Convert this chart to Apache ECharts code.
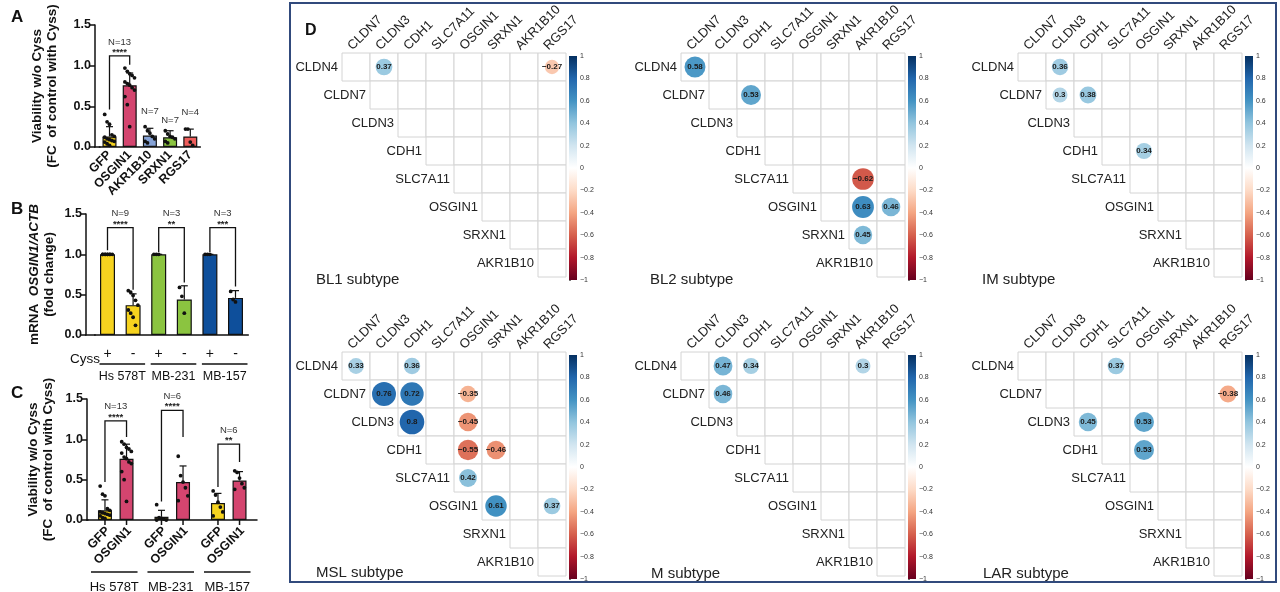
<!DOCTYPE html>
<html>
<head>
<meta charset="utf-8">
<script src="https://cdn.jsdelivr.net/npm/echarts@6/dist/echarts.min.js"></script>
<style>
  html, body { margin: 0; padding: 0; background: #fff; }
  #chart { width: 1280px; height: 592px; }
</style>
</head>
<body>
<div id="chart"></div>
<script>
// ---------- panel A : viability per gene ----------
const aCats = ['GFP', 'OSGIN1', 'AKR1B10', 'SRXN1', 'RGS17'];
const aMeans = [0.13, 0.76, 0.14, 0.12, 0.13];
const aSD = [0.12, 0.15, 0.09, 0.08, 0.09];
const aColors = ['#f6d31f', '#d4456f', '#85a2d6', '#8bc440', '#ee5d5b'];
const aDots = [
  [0.40, 0.31, 0.28, 0.15, 0.13, 0.12, 0.10, 0.09, 0.08, 0.07, 0.06, 0.04, 0.02],
  [0.97, 0.93, 0.90, 0.88, 0.85, 0.80, 0.78, 0.76, 0.73, 0.70, 0.62, 0.52, 0.25],
  [0.25, 0.20, 0.17, 0.13, 0.10, 0.07, 0.05],
  [0.20, 0.16, 0.13, 0.12, 0.10, 0.07, 0.05],
  [0.22, 0.22, 0.06, 0.02]
];
const aNLabels = [['N=7', 2, 0.44], ['N=7', 3, 0.33], ['N=4', 4, 0.43]];
const aBrackets = [[0, 1, 1.12, 0.46, 1.01, 'N=13', '****']];

// ---------- panel B : OSGIN1 mRNA ----------
const bCats = ['+', '-', '+', '-', '+', '-'];
const bLines = ['Hs 578T', 'MB-231', 'MB-157'];
const bMeans = [1.0, 0.37, 1.0, 0.44, 1.0, 0.46];
const bSD = [0, 0.14, 0, 0.17, 0, 0.09];
const bColors = ['#f6d31f', '#f6d31f', '#8bc440', '#8bc440', '#0e4f9b', '#0e4f9b'];
const bDots = [
  [1, 1, 1, 1, 1, 1, 1, 1, 1],
  [0.55, 0.53, 0.49, 0.43, 0.37, 0.31, 0.27, 0.22, 0.12],
  [1, 1, 1],
  [0.59, 0.48, 0.27],
  [1, 1, 1],
  [0.54, 0.44, 0.41]
];
const bBrackets = [
  [0, 1, 1.33, 1.05, 0.56, 'N=9', '****'],
  [2, 3, 1.33, 1.03, 0.65, 'N=3', '**'],
  [4, 5, 1.33, 1.03, 0.60, 'N=3', '***']
];

// ---------- panel C : viability per cell line ----------
const cLines = ['Hs 578T', 'MB-231', 'MB-157'];
const cPair = ['GFP', 'OSGIN1'];
const cGfp = [0.12, 0.04, 0.21];
const cGfpSD = [0.13, 0.08, 0.12];
const cOsg = [0.76, 0.47, 0.49];
const cOsgSD = [0.18, 0.20, 0.11];
const cGfpDots = [
  [0.42, 0.32, 0.30, 0.14, 0.12, 0.10, 0.09, 0.08, 0.07, 0.06, 0.05, 0.03, 0.02],
  [0.19, 0.03, 0.02, 0.01, 0.00, 0.00],
  [0.36, 0.31, 0.22, 0.16, 0.10, 0.05]
];
const cOsgDots = [
  [0.97, 0.94, 0.90, 0.88, 0.85, 0.83, 0.78, 0.76, 0.72, 0.70, 0.60, 0.50, 0.23],
  [0.79, 0.55, 0.47, 0.40, 0.30, 0.24],
  [0.61, 0.59, 0.52, 0.45, 0.40, 0.38]
];
const cBrackets = [
  [0, 1.23, 0.47, 1.03, 'N=13', '****'],
  [1, 1.36, 0.23, 1.03, 'N=6', '****'],
  [2, 0.94, 0.41, 0.72, 'N=6', '**']
];

// ---------- panel D : correlation plots ----------
const rowGenes = ['CLDN4', 'CLDN7', 'CLDN3', 'CDH1', 'SLC7A11', 'OSGIN1', 'SRXN1', 'AKR1B10'];
const colGenes = ['CLDN7', 'CLDN3', 'CDH1', 'SLC7A11', 'OSGIN1', 'SRXN1', 'AKR1B10', 'RGS17'];
const subtypes = ['BL1 subtype', 'BL2 subtype', 'IM subtype', 'MSL subtype', 'M subtype', 'LAR subtype'];
// [row, col, r]
const corrBL1 = [[0, 1, 0.37], [0, 7, -0.27]];
const corrBL2 = [[0, 0, 0.58], [1, 2, 0.53], [4, 6, -0.62], [5, 6, 0.63], [5, 7, 0.46], [6, 6, 0.45]];
const corrIM = [[0, 1, 0.36], [1, 1, 0.3], [1, 2, 0.38], [3, 4, 0.34]];
const corrMSL = [[0, 0, 0.33], [0, 2, 0.36], [1, 1, 0.76], [1, 2, 0.72], [1, 4, -0.35], [2, 2, 0.8],
  [2, 4, -0.45], [3, 4, -0.55], [3, 5, -0.46], [4, 4, 0.42], [5, 5, 0.61], [5, 7, 0.37]];
const corrM = [[0, 1, 0.47], [0, 2, 0.34], [0, 6, 0.3], [1, 1, 0.46]];
const corrLAR = [[0, 3, 0.37], [1, 7, -0.38], [2, 2, 0.45], [2, 4, 0.53], [3, 4, 0.53]];
const corrPanels = [corrBL1, corrBL2, corrIM, corrMSL, corrM, corrLAR];
const rdbu = ['#67001F', '#B2182B', '#D6604D', '#F4A582', '#FDDBC7', '#FFFFFF',
  '#D1E5F0', '#92C5DE', '#4393C3', '#2166AC', '#053061'];

// ---------- layout ----------
const FONT = 'Liberation Sans';
const INK = '#111';
const corrLeft = [342, 681, 1018];
const corrTop = [53, 352];
const CELL = 28;
const subLeft = [311, 645, 977, 311, 646, 978];
const subTop = [267, 267, 267, 560, 561, 561];

const grid = [], xAxis = [], yAxis = [], series = [], title = [];
const scatterIdx = [];

function barPanel(cfg) {
  grid.push({ left: cfg.left, top: cfg.top, width: cfg.width, height: cfg.height });
  const gi = grid.length - 1;
  xAxis.push({
    type: 'category', gridIndex: gi, data: cfg.cats,
    axisLine: { lineStyle: { color: INK, width: 1.5 } },
    axisTick: { alignWithLabel: true, length: 5, lineStyle: { color: INK, width: 1.5 } },
    axisLabel: cfg.axisLabel
  });
  yAxis.push({
    type: 'value', gridIndex: gi, min: 0, max: 1.5, interval: 0.5, offset: cfg.yOffset,
    name: cfg.name, nameLocation: 'middle', nameGap: cfg.nameGap, nameTextStyle: cfg.nameStyle,
    axisLine: { show: true, lineStyle: { color: INK, width: 1.5 } },
    axisTick: { show: true, length: 5, lineStyle: { color: INK, width: 1.5 } },
    axisLabel: { formatter: v => v.toFixed(1), fontWeight: 'bold', fontSize: 12.5, color: INK, margin: 4, fontFamily: FONT },
    splitLine: { show: false }
  });
  const ax = { xi: xAxis.length - 1, yi: yAxis.length - 1 };
  // join the x axis line to the offset y axis
  series.push({
    type: 'custom', xAxisIndex: ax.xi, yAxisIndex: ax.yi, silent: true, clip: false,
    data: [[0, 0]],
    renderItem: (params, api) => {
      const p = api.coord([0, 0]);
      const x0 = p[0] - api.size([1, 0])[0] / 2;
      return { type: 'line', shape: { x1: x0 - cfg.yOffset - 0.75, y1: p[1], x2: x0 + 1, y2: p[1] },
        style: { stroke: INK, lineWidth: 1.5 } };
    }
  });
  return ax;
}

// draws error bars, dots, brackets, N labels on a bar panel
function overlay(ax, bars, pairOff, brackets, singles) {
  const base = { type: 'custom', xAxisIndex: ax.xi, yAxisIndex: ax.yi, silent: true, clip: false };
  series.push(Object.assign({}, base, {
    z: 3,
    data: bars.map(b => [b.cat, b.mean]),
    renderItem: (params, api) => {
      const b = bars[params.dataIndex];
      const p0 = api.coord([b.cat, b.mean]);
      const p1 = api.coord([b.cat, b.mean + b.sd]);
      const x = p0[0] + b.side * pairOff;
      return { type: 'group', children: [
        { type: 'line', shape: { x1: x, y1: p0[1], x2: x, y2: p1[1] }, style: { stroke: INK, lineWidth: 1.2 } },
        { type: 'line', shape: { x1: x - 3.5, y1: p1[1], x2: x + 3.5, y2: p1[1] }, style: { stroke: INK, lineWidth: 1.2 } }
      ] };
    }
  }));
  const dots = [];
  bars.forEach(b => b.dots.forEach((v, k) => dots.push({ cat: b.cat, side: b.side, v: v, k: k })));
  series.push(Object.assign({}, base, {
    z: 4,
    data: dots.map(d => [d.cat, d.v]),
    renderItem: (params, api) => {
      const d = dots[params.dataIndex];
      const p = api.coord([d.cat, d.v]);
      const jit = ((d.k % 5) - 2) * 2.4;
      return { type: 'circle', shape: { cx: p[0] + d.side * pairOff + jit, cy: p[1], r: 1.9 }, style: { fill: INK } };
    }
  }));
  series.push(Object.assign({}, base, {
    z: 4,
    data: brackets.map(b => [b.a[0], b.top]),
    renderItem: (params, api) => {
      const b = brackets[params.dataIndex];
      const xa = api.coord([b.a[0], 0])[0] + b.a[1] * pairOff;
      const xb = api.coord([b.b[0], 0])[0] + b.b[1] * pairOff;
      const yT = api.coord([b.a[0], b.top])[1];
      const yA = api.coord([b.a[0], b.aEnd])[1];
      const yB = api.coord([b.b[0], b.bEnd])[1];
      const mid = (xa + xb) / 2;
      return { type: 'group', children: [
        { type: 'polyline', shape: { points: [[xa, yA], [xa, yT], [xb, yT], [xb, yB]] }, style: { stroke: INK, lineWidth: 1.3, fill: null } },
        { type: 'text', x: mid, y: yT - 3.5, style: { text: b.s, align: 'center', verticalAlign: 'middle', fontSize: 9.5, fontWeight: 'bold', fontFamily: FONT, fill: '#222' } },
        { type: 'text', x: mid, y: yT - 14, style: { text: b.n, align: 'center', verticalAlign: 'middle', fontSize: 9.5, fontFamily: FONT, fill: '#333' } }
      ] };
    }
  }));
  if (singles.length) {
    series.push(Object.assign({}, base, {
      z: 4,
      data: singles.map(s => [s[1], s[2]]),
      renderItem: (params, api) => {
        const s = singles[params.dataIndex];
        const p = api.coord([s[1], s[2]]);
        return { type: 'text', x: p[0], y: p[1], style: { text: s[0], align: 'center', verticalAlign: 'middle', fontSize: 9.5, fontFamily: FONT, fill: '#333' } };
      }
    }));
  }
}

// group underlines + cell line names
function groupLabels(ax, groups, pairOff, extL, extR, lineDy, textDy, fs) {
  series.push({
    type: 'custom', xAxisIndex: ax.xi, yAxisIndex: ax.yi, silent: true, clip: false,
    data: groups.map(g => [g.a[0], 0]),
    renderItem: (params, api) => {
      const g = groups[params.dataIndex];
      const x0 = api.coord([g.a[0], 0])[0] + g.a[1] * pairOff - extL;
      const x1 = api.coord([g.b[0], 0])[0] + g.b[1] * pairOff + extR;
      const y = api.coord([g.a[0], 0])[1];
      return { type: 'group', children: [
        { type: 'line', shape: { x1: x0, y1: y + lineDy, x2: x1, y2: y + lineDy }, style: { stroke: INK, lineWidth: 1.4 } },
        { type: 'text', x: (x0 + x1) / 2, y: y + textDy, style: { text: g.label, align: 'center', verticalAlign: 'middle', fontSize: fs, fontFamily: FONT, fill: INK } }
      ] };
    }
  });
}

const nameStyle = { fontWeight: 'bold', fontSize: 13.5, lineHeight: 15, color: INK, fontFamily: FONT };

// ----- A -----
const axA = barPanel({
  left: 99.4, top: 25, width: 101, height: 122, yOffset: 4.4, cats: aCats,
  name: 'Viability w/o Cyss\n(FC  of control with Cyss)', nameGap: 35, nameStyle: nameStyle,
  axisLabel: { rotate: 45, interval: 0, margin: 6, fontWeight: 'bold', fontSize: 12.5, color: INK, fontFamily: FONT }
});
series.push({
  type: 'bar', xAxisIndex: axA.xi, yAxisIndex: axA.yi, barWidth: 14, silent: true,
  data: aMeans.map((v, i) => ({ value: v, itemStyle: { color: aColors[i] } })),
  itemStyle: { borderColor: INK, borderWidth: 1.2 }
});
overlay(axA, aCats.map((c, i) => ({ cat: i, side: 0, mean: aMeans[i], sd: aSD[i], dots: aDots[i] })), 0,
  aBrackets.map(b => ({ a: [b[0], 0], b: [b[1], 0], top: b[2], aEnd: b[3], bEnd: b[4], n: b[5], s: b[6] })), aNLabels);

// ----- B -----
const axB = barPanel({
  left: 94.7, top: 214, width: 153.6, height: 121, yOffset: 8.7, cats: bCats,
  name: '{t|mRNA  }{i|OSGIN1/ACTB}\n{t|(fold change)}', nameGap: 29,
  nameStyle: { lineHeight: 15, rich: {
    t: { fontWeight: 'bold', fontSize: 13.5, lineHeight: 15, color: INK, fontFamily: FONT },
    i: { fontWeight: 'bold', fontStyle: 'italic', fontSize: 13.5, lineHeight: 15, color: INK, fontFamily: FONT } } },
  axisLabel: { interval: 0, margin: 12, fontSize: 14, color: INK, fontFamily: FONT }
});
series.push({
  type: 'bar', xAxisIndex: axB.xi, yAxisIndex: axB.yi, barWidth: 15, silent: true,
  data: bMeans.map((v, i) => ({ value: v, itemStyle: { color: bColors[i] } })),
  itemStyle: { borderColor: INK, borderWidth: 1.2 }
});
overlay(axB, bCats.map((c, i) => ({ cat: i, side: 0, mean: bMeans[i], sd: bSD[i], dots: bDots[i] })), 0,
  bBrackets.map(b => ({ a: [b[0], 0], b: [b[1], 0], top: b[2], aEnd: b[3], bEnd: b[4], n: b[5], s: b[6] })), []);
groupLabels(axB, bLines.map((l, i) => ({ a: [2 * i, 0], b: [2 * i + 1, 0], label: l })), 0, 8, 12, 29, 42, 12.5);

// ----- C -----
const cBarW = 14;
const cOff = cBarW * (1 + 0.54) / 2;
const axC = barPanel({
  left: 87.5, top: 399, width: 169.5, height: 121, yOffset: 0.5, cats: cLines,
  name: 'Viability w/o Cyss\n(FC  of control with Cyss)', nameGap: 31, nameStyle: nameStyle,
  axisLabel: { show: false }
});
xAxis[axC.xi].axisTick = { show: false };
series.push({
  type: 'bar', xAxisIndex: axC.xi, yAxisIndex: axC.yi, barWidth: cBarW, barGap: '54%', silent: true,
  data: cGfp, itemStyle: { color: '#f6d31f', borderColor: INK, borderWidth: 1.2 }
});
series.push({
  type: 'bar', xAxisIndex: axC.xi, yAxisIndex: axC.yi, barWidth: cBarW, barGap: '54%', silent: true,
  data: cOsg, itemStyle: { color: '#d4456f', borderColor: INK, borderWidth: 1.2 }
});
const cBars = [];
cLines.forEach((l, g) => {
  cBars.push({ cat: g, side: -1, mean: cGfp[g], sd: cGfpSD[g], dots: cGfpDots[g], name: cPair[0] });
  cBars.push({ cat: g, side: 1, mean: cOsg[g], sd: cOsgSD[g], dots: cOsgDots[g], name: cPair[1] });
});
overlay(axC, cBars, cOff,
  cBrackets.map(b => ({ a: [b[0], -1], b: [b[0], 1], top: b[1], aEnd: b[2], bEnd: b[3], n: b[4], s: b[5] })), []);
// ticks + rotated GFP / OSGIN1 labels
series.push({
  type: 'custom', xAxisIndex: axC.xi, yAxisIndex: axC.yi, silent: true, clip: false,
  data: cBars.map(b => [b.cat, 0]),
  renderItem: (params, api) => {
    const b = cBars[params.dataIndex];
    const p = api.coord([b.cat, 0]);
    const x = p[0] + b.side * cOff;
    return { type: 'group', children: [
      { type: 'line', shape: { x1: x, y1: p[1], x2: x, y2: p[1] + 5 }, style: { stroke: INK, lineWidth: 1.5 } },
      { type: 'text', x: x + 3, y: p[1] + 9, rotation: Math.PI / 4,
        style: { text: b.name, align: 'right', verticalAlign: 'middle', fontSize: 12.5, fontWeight: 'bold', fontFamily: FONT, fill: INK } }
    ] };
  }
});
groupLabels(axC, cLines.map((l, g) => ({ a: [g, -1], b: [g, 1], label: l })), cOff, 14, 11, 52, 67, 13);

// ----- D : correlation panels -----
const cells = [];
for (let r = 0; r < rowGenes.length; r++) for (let c = r; c < colGenes.length; c++) cells.push([c, r]);
const barStops = rdbu.slice().reverse().map((c, i) => ({ offset: i / (rdbu.length - 1), color: c }));
const tickFmt = v => { const r = Math.round(v * 10) / 10; return r < 0 ? '\u2212' + Math.abs(r) : String(r); };

corrPanels.forEach((corr, p) => {
  const gl = corrLeft[p % 3], gt = corrTop[Math.floor(p / 3)];
  grid.push({ left: gl, top: gt, width: CELL * 8, height: CELL * 8 });
  const gi = grid.length - 1;
  xAxis.push({ type: 'value', gridIndex: gi, min: 0, max: 8, show: false });
  const xv = xAxis.length - 1;
  yAxis.push({ type: 'value', gridIndex: gi, min: 0, max: 8, inverse: true, show: false });
  const yv = yAxis.length - 1;

  series.push({
    type: 'custom', xAxisIndex: xv, yAxisIndex: yv, silent: true, clip: false, z: 1,
    data: cells,
    renderItem: (params, api) => {
      const c = cells[params.dataIndex];
      const p0 = api.coord([c[0], c[1]]);
      const p1 = api.coord([c[0] + 1, c[1] + 1]);
      return { type: 'rect', shape: { x: p0[0], y: p0[1], width: p1[0] - p0[0], height: p1[1] - p0[1] },
        style: { fill: '#fff', stroke: '#d4d4d4', lineWidth: 1 } };
    }
  });
  // row labels on the diagonal
  series.push({
    type: 'custom', xAxisIndex: xv, yAxisIndex: yv, silent: true, clip: false,
    data: rowGenes.map((g, i) => [i, i + 0.5]),
    renderItem: (params, api) => {
      const i = params.dataIndex;
      const pt = api.coord([i, i + 0.5]);
      return { type: 'text', x: pt[0] - 4, y: pt[1],
        style: { text: rowGenes[i], align: 'right', verticalAlign: 'middle', fontSize: 13, fontFamily: FONT, fill: '#222' } };
    }
  });
  // rotated column labels
  series.push({
    type: 'custom', xAxisIndex: xv, yAxisIndex: yv, silent: true, clip: false,
    data: colGenes.map((g, j) => [j + 0.5, 0]),
    renderItem: (params, api) => {
      const j = params.dataIndex;
      const pt = api.coord([j + 0.5, 0]);
      return { type: 'text', x: pt[0] - 6, y: pt[1] - 5, rotation: Math.PI / 4,
        style: { text: colGenes[j], align: 'left', verticalAlign: 'middle', fontSize: 13, fontFamily: FONT, fill: '#222' } };
    }
  });
  series.push({
    type: 'scatter', xAxisIndex: xv, yAxisIndex: yv, silent: true, z: 3,
    data: corr.map(d => [d[1] + 0.5, d[0] + 0.5, d[2]]),
    symbolSize: v => Math.sqrt(Math.abs(v[2])) * (CELL - 0.5),
    itemStyle: { opacity: 1 },
    label: {
      show: true, position: 'inside', fontSize: 8, fontWeight: 'bold', color: '#1a1a1a', fontFamily: FONT,
      formatter: prm => (prm.value[2] < 0 ? '\u2212' : '') + Math.abs(prm.value[2])
    }
  });
  scatterIdx.push(series.length - 1);

  // colour bar
  grid.push({ left: gl + 227, top: gt + 3, width: 8, height: CELL * 8 });
  const cg = grid.length - 1;
  xAxis.push({ type: 'value', gridIndex: cg, min: 0, max: 1, show: false });
  yAxis.push({
    type: 'value', gridIndex: cg, min: -1, max: 1, interval: 0.2, position: 'right',
    axisLine: { show: false }, splitLine: { show: false },
    axisTick: { show: true, length: 2, lineStyle: { color: '#555', width: 0.8 } },
    axisLabel: { fontSize: 7, margin: 3, color: '#333', fontFamily: FONT, formatter: tickFmt }
  });
  series.push({
    type: 'custom', xAxisIndex: xAxis.length - 1, yAxisIndex: yAxis.length - 1, silent: true, clip: false,
    data: [[0, -1]],
    renderItem: (params, api) => {
      const p0 = api.coord([0, 1]);
      const p1 = api.coord([1, -1]);
      return { type: 'rect', shape: { x: p0[0], y: p0[1], width: p1[0] - p0[0], height: p1[1] - p0[1] },
        style: { fill: new echarts.graphic.LinearGradient(0, 0, 0, 1, barStops) } };
    }
  });

  title.push({ text: subtypes[p], left: subLeft[p], top: subTop[p],
    textStyle: { fontSize: 15, fontWeight: 'normal', color: '#222', fontFamily: FONT } });
});

// panel letters and extra text
const letterStyle = { fontSize: 17, fontWeight: 'bold', color: INK, fontFamily: FONT };
title.push({ text: 'A', left: 6, top: 4, textStyle: letterStyle });
title.push({ text: 'B', left: 6, top: 196, textStyle: letterStyle });
title.push({ text: 'C', left: 6, top: 380, textStyle: letterStyle });
title.push({ text: 'D', left: 300, top: 18, textStyle: Object.assign({}, letterStyle, { fontSize: 16 }) });
title.push({ text: 'Cyss', left: 65, top: 347, textStyle: { fontSize: 13.5, fontWeight: 'normal', color: INK, fontFamily: FONT } });

const chart = echarts.init(document.getElementById('chart'));
chart.setOption({
  animation: false,
  backgroundColor: '#fff',
  textStyle: { fontFamily: FONT },
  title: title,
  grid: grid,
  xAxis: xAxis,
  yAxis: yAxis,
  visualMap: [{
    type: 'continuous', show: false, min: -1, max: 1, dimension: 2,
    seriesIndex: scatterIdx, inRange: { color: rdbu }
  }],
  graphic: [{
    type: 'rect', silent: true,
    shape: { x: 290, y: 3, width: 986, height: 579 },
    style: { fill: 'none', stroke: '#314a7c', lineWidth: 2 }
  }],
  series: series
});
</script>
</body>
</html>
